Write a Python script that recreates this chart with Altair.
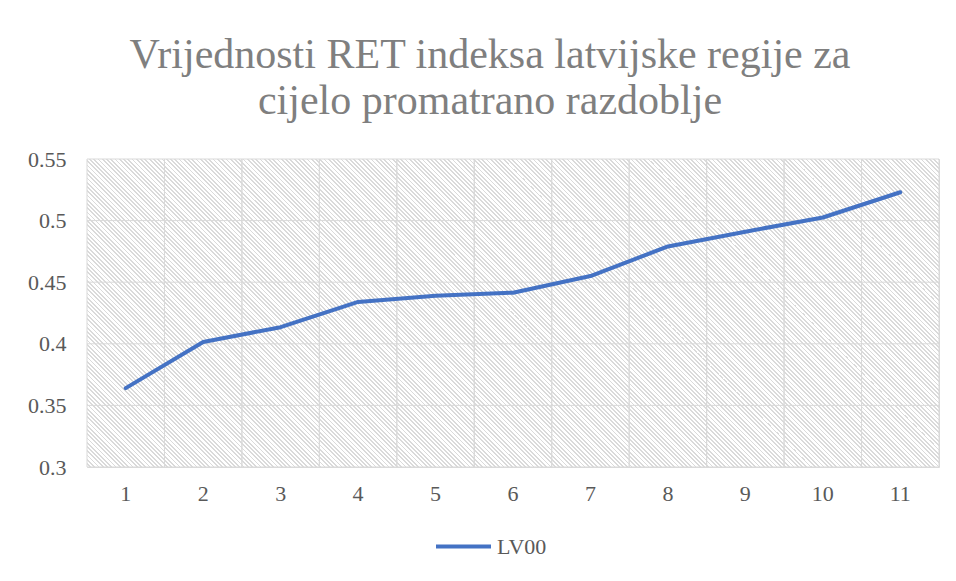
import altair as alt
import pandas as pd

# ---- data ----
periods = [1, 2, 3, 4, 5, 6, 7, 8, 9, 10, 11]
lv00 = [0.364, 0.4015, 0.4135, 0.434, 0.439, 0.4415, 0.455, 0.479, 0.491, 0.5025, 0.523]
series_name = "LV00"
y_ticks = [0.3, 0.35, 0.4, 0.45, 0.5, 0.55]
title_lines = ["Vrijednosti RET indeksa latvijske regije za", "cijelo promatrano razdoblje"]

df = pd.DataFrame({"period": periods, "value": lv00, "series": [series_name] * len(periods)})
df_y = pd.DataFrame({"tick": y_ticks})
df_bg = pd.DataFrame({"lo": [y_ticks[0]], "hi": [y_ticks[-1]]})

# ---- hatched plot background (diagonal stripes via a sharp-stop gradient) ----
W, H = 852, 308
n_stripes = 272
grey_frac = 0.42
stops = []
for i in range(n_stripes):
    o = i / n_stripes
    mid = (i + 1 - grey_frac) / n_stripes
    end = (i + 1) / n_stripes
    stops += [
        {"offset": round(o, 6), "color": "#ffffff"},
        {"offset": round(mid, 6), "color": "#ffffff"},
        {"offset": round(mid, 6), "color": "#dadada"},
        {"offset": round(end, 6), "color": "#dadada"},
    ]
r = H / W
k = (1 + r) / (1 + r * r)
hatch = {"gradient": "linear", "x1": 0, "y1": 1, "x2": k, "y2": 1 - k * r, "stops": stops}

FONT = "Liberation Serif, Times New Roman, serif"
GRID = "#d9d9d9"
LABEL = "#595959"

x_scale = alt.Scale(type="band", paddingInner=0, paddingOuter=0)
y_scale = alt.Scale(domain=[0.3, 0.55], nice=False, zero=False)

x_axis = alt.Axis(
    title=None, labelAngle=0, ticks=False, tickSize=0, domain=False, grid=False,
    labelPadding=16, labelFont=FONT, labelFontSize=22, labelColor=LABEL,
)
y_axis = alt.Axis(
    title=None, values=y_ticks, format="~g", ticks=False, tickSize=0, domain=False,
    grid=False, labelPadding=21, labelFont=FONT, labelFontSize=22, labelColor=LABEL,
)

background = (
    alt.Chart(df_bg)
    .mark_rect(fill=hatch, strokeWidth=0)
    .encode(
        x=alt.value(0),
        x2=alt.value("width"),
        y=alt.Y("hi:Q", scale=y_scale, axis=y_axis),
        y2="lo:Q",
    )
)

hgrid = (
    alt.Chart(df_y)
    .mark_rule(color=GRID, strokeWidth=1)
    .encode(y=alt.Y("tick:Q", scale=y_scale, axis=y_axis))
)

vgrid_start = (
    alt.Chart(df)
    .mark_rule(color=GRID, strokeWidth=1)
    .encode(x=alt.X("period:O", scale=x_scale, axis=x_axis, bandPosition=0))
)
vgrid_end = (
    alt.Chart(df)
    .mark_rule(color=GRID, strokeWidth=1)
    .encode(x=alt.X("period:O", scale=x_scale, axis=x_axis, bandPosition=1))
)

line = (
    alt.Chart(df)
    .mark_line(strokeWidth=4, strokeCap="round", strokeJoin="round")
    .encode(
        x=alt.X("period:O", scale=x_scale, axis=x_axis),
        y=alt.Y("value:Q", scale=y_scale, axis=y_axis),
        color=alt.Color(
            "series:N",
            scale=alt.Scale(range=["#4472C4"]),
            legend=alt.Legend(
                title=None,
                orient="none",
                legendX=347,
                legendY=358,
                symbolType="stroke",
                symbolSize=3025,
                symbolStrokeWidth=4,
                labelFont=FONT,
                labelFontSize=22,
                labelColor=LABEL,
                labelOffset=4,
                padding=0,
            ),
        ),
    )
)

chart = (
    alt.layer(background, hgrid, vgrid_start, vgrid_end, line)
    .properties(
        width=W,
        height=H,
        background="white",
        title=alt.TitleParams(
            text=title_lines,
            font=FONT,
            fontSize=42,
            fontWeight="normal",
            color="#7f7f7f",
            anchor="middle",
            lineHeight=46,
            offset=25,
            dx=-23,
        ),
        autosize=alt.AutoSizeParams(type="none"),
        padding={"left": 79, "top": 151, "right": 9, "bottom": 100},
    )
    .configure_view(stroke=GRID, strokeWidth=1)
)

chart.save("out.html", embed_options={"renderer": "svg", "actions": False})
